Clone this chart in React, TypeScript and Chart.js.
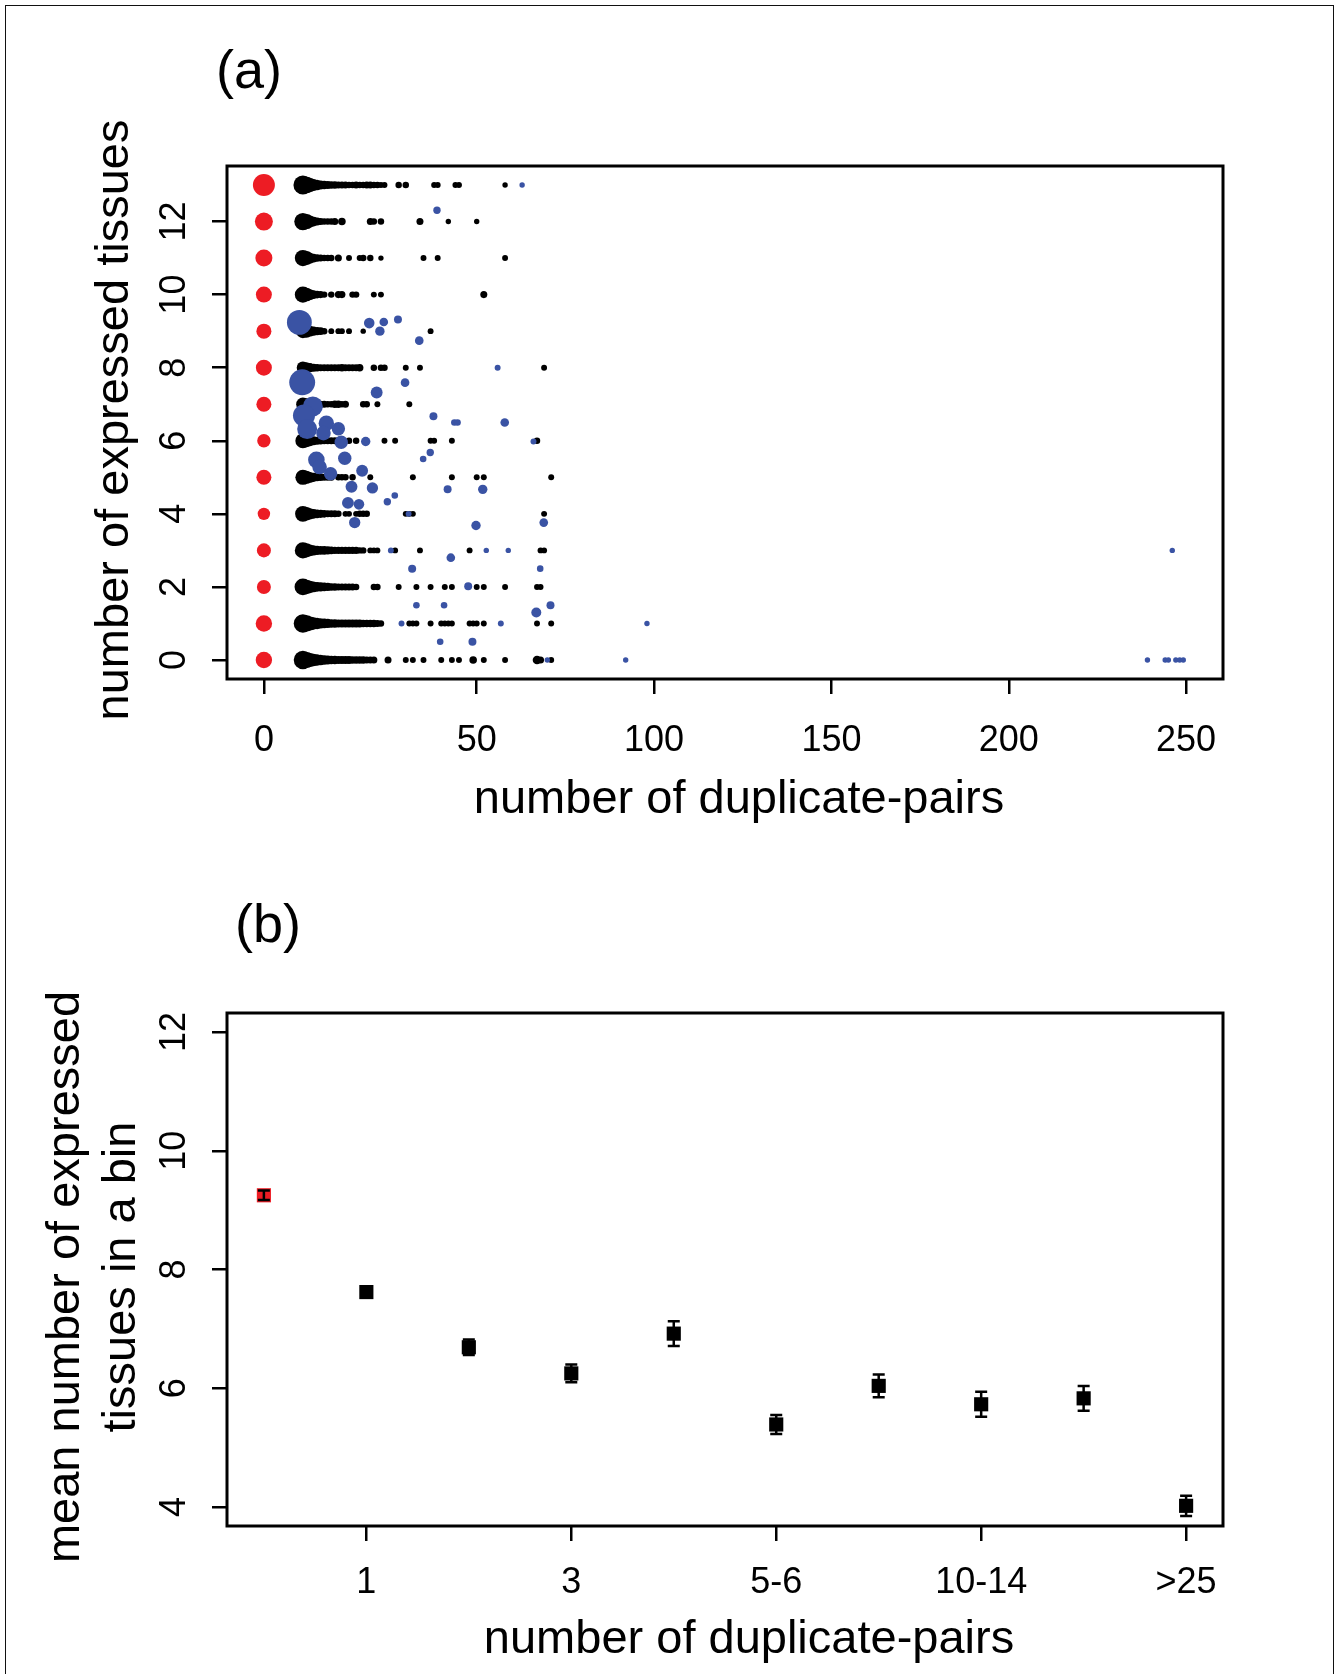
import React, { useEffect, useRef } from "react";
import { Chart, registerables } from "chart.js";

Chart.register(...registerables);

const FONT = '"Liberation Sans", Arial, Helvetica, sans-serif';
const RED = "#ED1C24";
const BLUE = "#3A53A4";
const BLACK = "#000000";

// ---------------- Panel (a) data ----------------
// singleton genes are drawn in their own column, at position -10, labelled "0"
const singletonPos = -10;
const tissueRows = [0, 1, 2, 3, 4, 5, 6, 7, 8, 9, 10, 11, 12, 13];
// relative marker size of the singleton genes, one per row
const singletonSize = [3.04, 3.04, 2.6, 2.6, 2.3, 2.78, 2.48, 2.78, 2.96, 2.78, 2.96, 3.15, 3.33, 4.07];

// black points: number of duplicate-pairs per row (row index = expressed tissues)
const pairX: number[][] = [
  [1, 2, 3, 4, 5, 6, 7, 8, 9, 10, 11, 12, 13, 14, 15, 16, 17, 18, 19, 20, 21, 25, 30, 32, 35, 40, 43, 45, 49, 52, 58, 67, 68, 71],
  [1, 2, 3, 4, 5, 6, 7, 8, 9, 10, 11, 12, 13, 14, 15, 16, 17, 18, 19, 20, 21, 22, 23, 31, 32, 33, 37, 40, 41, 42, 43, 48, 49, 50, 52, 67, 71],
  [1, 2, 3, 4, 5, 6, 7, 8, 9, 10, 11, 12, 13, 14, 15, 16, 21, 22, 28, 33, 37, 41, 43, 50, 52, 58, 67, 68],
  [1, 2, 3, 4, 5, 6, 7, 8, 9, 10, 11, 12, 13, 14, 15, 16, 17, 18, 20, 21, 22, 27, 34, 48, 68, 69],
  [1, 2, 3, 4, 5, 6, 7, 8, 9, 10, 11, 13, 14, 16, 17, 18, 19, 30, 31, 32, 69],
  [1, 2, 3, 4, 5, 6, 7, 8, 9, 11, 12, 13, 15, 20, 32, 43, 50, 52, 71],
  [1, 2, 3, 4, 5, 6, 7, 8, 9, 10, 11, 12, 14, 16, 24, 27, 37, 38, 43, 67],
  [1, 2, 3, 4, 5, 6, 7, 8, 9, 10, 11, 12, 13, 18, 19, 22, 31],
  [1, 2, 3, 4, 5, 6, 7, 8, 9, 10, 11, 12, 13, 14, 15, 16, 17, 21, 23, 24, 30, 34, 69],
  [1, 2, 3, 4, 5, 6, 7, 9, 11, 12, 14, 18, 37],
  [1, 2, 3, 4, 5, 6, 7, 9, 11, 12, 15, 16, 21, 23, 52],
  [1, 2, 3, 4, 5, 6, 7, 8, 9, 11, 14, 17, 18, 20, 23, 35, 39, 58],
  [1, 2, 3, 4, 5, 6, 7, 8, 9, 10, 12, 20, 21, 23, 34, 42, 50],
  [1, 2, 3, 4, 5, 6, 7, 8, 9, 10, 11, 12, 13, 14, 15, 16, 17, 18, 19, 20, 21, 22, 23, 24, 28, 30, 38, 39, 44, 45, 58],
];
const pairSize: number[][] = [
  [3.4, 3, 2.6, 2.3, 2.1, 1.9, 1.8, 1.7, 1.6, 1.6, 1.5, 1.5, 1.5, 1.5, 1.4, 1.4, 1.4, 1.4, 1.3, 1.3, 1.3, 1.3, 1.1, 1.1, 1.1, 1.1, 1.1, 1.1, 1.4, 1.1, 1.1, 1.6, 1.3, 1.1],
  [3.4, 3, 2.6, 2.3, 2.1, 1.9, 1.8, 1.7, 1.6, 1.6, 1.5, 1.5, 1.5, 1.5, 1.5, 1.5, 1.5, 1.4, 1.4, 1.4, 1.4, 1.3, 1.2, 1.1, 1.1, 1.1, 1.1, 1.1, 1.1, 1.1, 1.1, 1.1, 1.1, 1.1, 1.1, 1.1, 1.1],
  [3.1, 2.7, 2.3, 2, 1.8, 1.7, 1.6, 1.5, 1.4, 1.4, 1.3, 1.3, 1.3, 1.3, 1.3, 1.2, 1.2, 1.2, 1.1, 1.1, 1.1, 1.1, 1.1, 1.1, 1.1, 1.1, 1.1, 1.1],
  [3, 2.6, 2.2, 1.9, 1.7, 1.6, 1.6, 1.5, 1.4, 1.3, 1.3, 1.3, 1.3, 1.3, 1.3, 1.3, 1.2, 1.2, 1.1, 1.1, 1.1, 1.1, 1.1, 1.1, 1.1, 1.1],
  [2.9, 2.5, 2.1, 1.8, 1.6, 1.5, 1.4, 1.3, 1.3, 1.3, 1.2, 1.1, 1.1, 1.1, 1.2, 1.2, 1.2, 1.1, 1.1, 1.1, 1.1],
  [2.8, 2.4, 2, 1.7, 1.5, 1.4, 1.3, 1.3, 1.3, 1.2, 1.2, 1.2, 1.2, 1.1, 1.1, 1.1, 1.1, 1.1, 1.1],
  [2.8, 2.4, 2, 1.7, 1.5, 1.4, 1.3, 1.3, 1.3, 1.3, 1.3, 1.3, 1.2, 1.2, 1.1, 1.1, 1.1, 1.1, 1.1, 1.2],
  [2.5, 2.2, 1.8, 1.6, 1.4, 1.3, 1.3, 1.2, 1.2, 1.4, 1.4, 1.2, 1.3, 1.2, 1.2, 1.1, 1.1],
  [2.3, 2, 1.7, 1.5, 1.4, 1.3, 1.3, 1.3, 1.3, 1.3, 1.3, 1.4, 1.3, 1.3, 1.3, 1.3, 1.4, 1.2, 1.2, 1.2, 1.1, 1.1, 1.1],
  [2.6, 2.4, 2, 1.7, 1.5, 1.4, 1.2, 1.1, 1.1, 1.1, 1.1, 1, 1.1],
  [3, 2.5, 2, 1.6, 1.4, 1.3, 1.2, 1.2, 1.3, 1.3, 1.2, 1.2, 1.1, 1.1, 1.3],
  [3, 2.6, 2, 1.6, 1.4, 1.3, 1.2, 1.2, 1.2, 1.3, 1.1, 1.1, 1.2, 1.2, 1, 1.1, 1.1, 1.1],
  [3.2, 2.8, 2.2, 1.8, 1.5, 1.3, 1.2, 1.2, 1.2, 1.3, 1.4, 1.3, 1.2, 1.2, 1.3, 1, 1],
  [3.5, 3.1, 2.6, 2.2, 1.9, 1.7, 1.6, 1.5, 1.4, 1.4, 1.3, 1.3, 1.3, 1.2, 1.2, 1.3, 1.2, 1.2, 1.3, 1.3, 1.2, 1.2, 1.1, 1.1, 1.2, 1.2, 1.1, 1.1, 1.1, 1.1, 1],
];

// blue points: gene families
const familyX = [62.8, 38.8, 0, 19.7, 23.8, 27.8, 22.7, 33.8, 55.9, 0.8, 21.8, 29.8, 3.8, 1.3, 2.2, 7.6, 6.8, 11.0, 11.8, 12.8, 4.8, 5.7, 8.8, 17.7, 14.7, 20.6, 13.7, 16.8, 15.6, 18.7, 37.8, 43.7, 44.6, 57.9, 66.0, 36.9, 34.9, 26.9, 24.8, 41.8, 51.7, 30.8, 49.8, 68.9, 25.8, 42.7, 52.7, 58.9, 31.8, 67.9, 47.6, 33.0, 40.8, 70.8, 66.8, 28.8, 56.8, 39.7, 48.8, 69.9, 98.0, 92.0, 246.1, 239.1, 244.1, 245.0, 247.1, 248.2, 249.2];
const familyY = [13, 12.31, 9.24, 9.22, 9.25, 9.32, 9.0, 8.74, 8.0, 7.6, 7.32, 7.59, 6.94, 6.69, 6.32, 6.48, 6.21, 6.33, 5.96, 5.52, 5.48, 5.28, 5.1, 5.18, 4.74, 4.71, 4.3, 4.26, 3.76, 5.98, 6.67, 6.5, 6.5, 6.5, 5.98, 5.68, 5.5, 4.5, 4.33, 4.67, 4.67, 4.0, 3.68, 3.76, 3.0, 2.8, 3.0, 3.0, 2.5, 2.5, 2.02, 1.5, 1.5, 1.5, 1.3, 1.0, 1.0, 0.5, 0.5, 0, 1.0, 0, 3.0, 0, 0, 0, 0, 0, 0];
const familySize = [1.0, 1.37, 4.6, 1.96, 1.6, 1.48, 1.74, 1.6, 1.1, 4.8, 2.2, 1.6, 3.7, 4.07, 3.7, 2.85, 2.7, 2.48, 2.48, 2.48, 3.07, 2.7, 2.48, 2.2, 2.2, 2.1, 2.2, 1.96, 2.1, 1.74, 1.48, 1.22, 1.22, 1.6, 1.1, 1.37, 1.22, 1.22, 1.37, 1.48, 1.74, 1.1, 1.74, 1.6, 1.1, 1.6, 1.0, 1.0, 1.48, 1.22, 1.48, 1.22, 1.22, 1.48, 1.85, 1.1, 1.1, 1.22, 1.48, 1.0, 1.0, 1.0, 1.0, 1.0, 1.0, 1.0, 1.0, 1.0, 1.0];

const xTickPosA = [-10, 50, 100, 150, 200, 250];
const xTickLabelsA = ["0", "50", "100", "150", "200", "250"];
const yTicksA = [0, 2, 4, 6, 8, 10, 12];

// ---------------- Panel (b) data ----------------
const binPos = [0, 1, 2, 3, 4, 5, 6, 7, 8, 9];
const binMean = [9.25, 7.62, 6.69, 6.25, 6.92, 5.39, 6.04, 5.73, 5.83, 4.02];
const binErr = [0.08, 0.05, 0.13, 0.15, 0.21, 0.16, 0.19, 0.21, 0.21, 0.17];
const binTickPos = [1, 3, 5, 7, 9];
const binTickLabels = ["1", "3", "5-6", "10-14", ">25"];
const yTicksB = [4, 6, 8, 10, 12];

// ---------------- layout ----------------
const PAGE_W = 1337;
const UNIT = 2.7; // px radius per unit of marker size
const AREA = { left: 227, right: 1223, top: 166, bottom: 679 };
const A_H = 846;
const B_TOP = 847;
const B_H = 827;

type TextItem = { text: string; x: number; y: number; size: number; rot?: number };

function textPlugin(id: string, items: TextItem[]) {
  return {
    id,
    afterDraw(chart: any) {
      const ctx = chart.ctx as CanvasRenderingContext2D;
      for (const t of items) {
        ctx.save();
        ctx.translate(t.x, t.y);
        if (t.rot) ctx.rotate(t.rot);
        ctx.font = `${t.size}px ${FONT}`;
        ctx.fillStyle = BLACK;
        ctx.textAlign = "center";
        ctx.textBaseline = "alphabetic";
        ctx.fillText(t.text, 0, 0);
        ctx.restore();
      }
    },
  };
}

const boxPlugin = {
  id: "rbox",
  afterDraw(chart: any) {
    const { ctx, chartArea: a } = chart;
    ctx.save();
    ctx.lineWidth = 3;
    ctx.strokeStyle = BLACK;
    ctx.strokeRect(a.left, a.top, a.right - a.left, a.bottom - a.top);
    ctx.restore();
  },
};

const errorBarPlugin = {
  id: "errbars",
  afterDatasetsDraw(chart: any) {
    const xs = chart.scales.x;
    const ys = chart.scales.y;
    const ctx = chart.ctx as CanvasRenderingContext2D;
    ctx.save();
    ctx.strokeStyle = BLACK;
    ctx.lineWidth = 2.5;
    binPos.forEach((p, i) => {
      const x = xs.getPixelForValue(p);
      const y1 = ys.getPixelForValue(binMean[i] + binErr[i]);
      const y2 = ys.getPixelForValue(binMean[i] - binErr[i]);
      ctx.beginPath();
      ctx.moveTo(x, y1);
      ctx.lineTo(x, y2);
      ctx.moveTo(x - 6, y1);
      ctx.lineTo(x + 6, y1);
      ctx.moveTo(x - 6, y2);
      ctx.lineTo(x + 6, y2);
      ctx.stroke();
    });
    ctx.restore();
  },
};

function makeScales(opts: {
  xMin: number; xMax: number; yMin: number; yMax: number;
  xTicks: number[]; xLabels: string[]; yTicks: number[]; canvasH: number; xPad: number;
}) {
  const grid = {
    drawOnChartArea: false,
    drawTicks: true,
    tickLength: 15,
    color: BLACK,
    tickColor: BLACK,
    lineWidth: 2.5,
    tickWidth: 2.5,
  };
  return {
    x: {
      type: "linear",
      min: opts.xMin,
      max: opts.xMax,
      afterBuildTicks: (s: any) => {
        s.ticks = opts.xTicks.map((v) => ({ value: v }));
      },
      afterFit: (s: any) => {
        s.height = opts.canvasH - AREA.bottom;
      },
      grid,
      border: { display: false },
      ticks: {
        color: BLACK,
        font: { family: FONT, size: 36 },
        padding: opts.xPad,
        autoSkip: false,
        minRotation: 0,
        maxRotation: 0,
        callback: (v: any) => opts.xLabels[opts.xTicks.indexOf(Number(v))] ?? "",
      },
    },
    y: {
      type: "linear",
      min: opts.yMin,
      max: opts.yMax,
      afterBuildTicks: (s: any) => {
        s.ticks = opts.yTicks.map((v) => ({ value: v }));
      },
      afterFit: (s: any) => {
        s.width = AREA.left;
      },
      grid,
      border: { display: false },
      ticks: {
        color: BLACK,
        font: { family: FONT, size: 36 },
        padding: 17,
        autoSkip: false,
        minRotation: 90,
        maxRotation: 90,
        crossAlign: "center",
        callback: (v: any) => String(v),
      },
    },
  };
}

const layoutPadding = { left: 0, right: PAGE_W - AREA.right, top: AREA.top, bottom: 0 };

export default function App() {
  const refA = useRef<HTMLCanvasElement | null>(null);
  const refB = useRef<HTMLCanvasElement | null>(null);

  useEffect(() => {
    if (!refA.current || !refB.current) return;

    const redData = tissueRows.map((r, i) => ({ x: singletonPos, y: r, w: singletonSize[i] }));
    const blackData: { x: number; y: number; w: number }[] = [];
    pairX.forEach((row, r) => {
      row.forEach((x, j) => blackData.push({ x, y: tissueRows[r], w: pairSize[r][j] ?? 1 }));
    });
    const blueData = familyX.map((x, i) => ({ x, y: familyY[i], w: familySize[i] }));
    const radius = (c: any) => (c.raw ? c.raw.w * UNIT : 0);

    const chartA = new Chart(refA.current, {
      type: "scatter",
      data: {
        datasets: [
          { data: blueData, pointBackgroundColor: BLUE, pointBorderWidth: 0, pointRadius: radius, pointHoverRadius: radius, order: 0 },
          { data: blackData, pointBackgroundColor: BLACK, pointBorderWidth: 0, pointRadius: radius, pointHoverRadius: radius, order: 1 },
          { data: redData, pointBackgroundColor: RED, pointBorderWidth: 0, pointRadius: radius, pointHoverRadius: radius, order: 2 },
        ],
      } as any,
      options: {
        responsive: false,
        maintainAspectRatio: false,
        devicePixelRatio: 1,
        animation: false,
        events: [],
        layout: { padding: layoutPadding },
        plugins: { legend: { display: false }, tooltip: { enabled: false }, title: { display: false } },
        scales: makeScales({
          xMin: -20.4, xMax: 260.4, yMin: -0.52, yMax: 13.52,
          xTicks: xTickPosA, xLabels: xTickLabelsA, yTicks: yTicksA, canvasH: A_H, xPad: 25,
        }) as any,
      },
      plugins: [
        boxPlugin,
        textPlugin("textA", [
          { text: "(a)", x: 249, y: 88, size: 54 },
          { text: "number of duplicate-pairs", x: 739, y: 813, size: 47 },
          { text: "number of expressed tissues", x: 128, y: 420, size: 47, rot: -Math.PI / 2 },
        ]),
      ],
    });

    const binData = binPos.map((p, i) => ({ x: p, y: binMean[i] }));
    const chartB = new Chart(refB.current, {
      type: "scatter",
      data: {
        datasets: [
          {
            data: binData,
            pointStyle: "rect",
            pointRadius: 10,
            pointHoverRadius: 10,
            pointBorderWidth: 0,
            pointBackgroundColor: (c: any) => (c.dataIndex === 0 ? RED : BLACK),
          },
        ],
      } as any,
      options: {
        responsive: false,
        maintainAspectRatio: false,
        devicePixelRatio: 1,
        animation: false,
        events: [],
        layout: { padding: layoutPadding },
        plugins: { legend: { display: false }, tooltip: { enabled: false }, title: { display: false } },
        scales: makeScales({
          xMin: -0.36, xMax: 9.36, yMin: 3.68, yMax: 12.32,
          xTicks: binTickPos, xLabels: binTickLabels, yTicks: yTicksB, canvasH: B_H, xPad: 20,
        }) as any,
      },
      plugins: [
        errorBarPlugin,
        boxPlugin,
        textPlugin("textB", [
          { text: "(b)", x: 268, y: 942 - B_TOP, size: 54 },
          { text: "number of duplicate-pairs", x: 749, y: 1653 - B_TOP, size: 47 },
          { text: "mean number of expressed", x: 79, y: 1277 - B_TOP, size: 47, rot: -Math.PI / 2 },
          { text: "tissues in a bin", x: 135, y: 1277 - B_TOP, size: 47, rot: -Math.PI / 2 },
        ]),
      ],
    });

    return () => {
      chartA.destroy();
      chartB.destroy();
    };
  }, []);

  return (
    <div
      style={{
        position: "absolute",
        left: 0,
        top: 0,
        width: PAGE_W,
        height: 1674,
        overflow: "hidden",
        background: "#fff",
      }}
    >
      <div
        style={{
          position: "absolute",
          left: 5,
          top: 5,
          width: 1329,
          height: 1720,
          border: "1px solid #111",
          boxSizing: "border-box",
        }}
      />
      <canvas
        ref={refA}
        width={PAGE_W}
        height={A_H}
        style={{ position: "absolute", left: 0, top: 0, width: PAGE_W, height: A_H }}
      />
      <canvas
        ref={refB}
        width={PAGE_W}
        height={B_H}
        style={{ position: "absolute", left: 0, top: B_TOP, width: PAGE_W, height: B_H }}
      />
    </div>
  );
}
